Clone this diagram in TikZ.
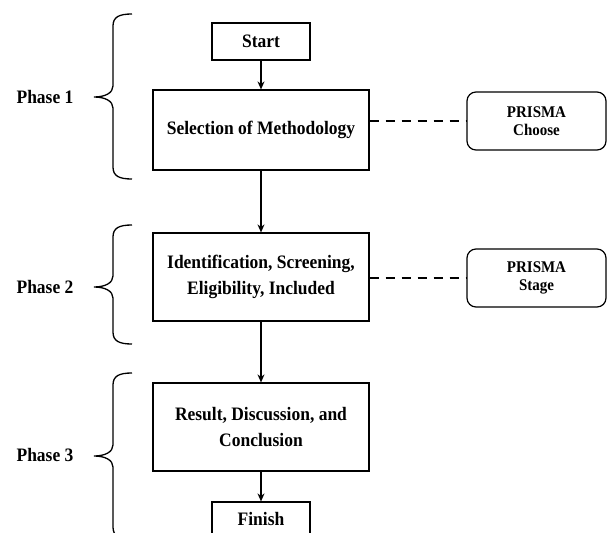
\documentclass[tikz,border=0pt]{standalone}
\usepackage{fontspec}
\setmainfont{Liberation Serif}
\newfontfamily\tallserif{Liberation Serif}[FakeStretch=0.92]
\usetikzlibrary{arrows.meta}
\tikzset{
  box/.style={draw, line width=1.2pt, rectangle, inner sep=0pt, align=center,
    font=\tallserif\fontsize{19}{26}\selectfont\bfseries},
  prisma/.style={draw, line width=1.2pt, rounded corners=9pt, inner sep=0pt, align=center,
    minimum width=139pt, minimum height=58pt,
    font=\tallserif\fontsize{16.3}{18}\selectfont\bfseries},
  phase/.style={font=\tallserif\fontsize{19}{21}\selectfont\bfseries, inner sep=0pt},
  flow/.style={line width=1.2pt, -{Stealth[length=8pt,width=7pt]}},
  link/.style={line width=1.3pt, dash pattern=on 9pt off 7pt},
  bracel/.style={line width=1.3pt}
}
\newcommand{\pbrace}[3]{% top, tip, bottom (px, y down)
  \draw[bracel] (132,#1) .. controls (119,#1) and (113,#1+3) .. (113,#1+12)
    -- (113,#2-11) .. controls (113,#2-4) and (105,#2) .. (94,#2)
    .. controls (105,#2) and (113,#2+4) .. (113,#2+11)
    -- (113,#3-12) .. controls (113,#3-3) and (119,#3) .. (132,#3);}
\begin{document}
\begin{tikzpicture}[x=1pt,y=-1pt]
\useasboundingbox (0,0) rectangle (608,533);
\node[box, minimum width=98pt, minimum height=37pt] (start) at (261,41.5) {Start};
\node[box, minimum width=216pt, minimum height=80pt] (sel) at (261,130) {Selection of Methodology};
\node[box, minimum width=216pt, minimum height=88pt] (ide) at (261,277) {Identification, Screening,\\Eligibility, Included};
\node[box, minimum width=216pt, minimum height=88pt] (res) at (261,427) {Result, Discussion, and\\Conclusion};
\node[box, minimum width=98pt, minimum height=34pt] (fin) at (261,519) {Finish};
\node[prisma] (p1) at (536.5,121) {PRISMA\\Choose};
\node[prisma] (p2) at (536.5,278) {PRISMA\\Stage};
\draw[flow] (start) -- (sel);
\draw[flow] (sel) -- (ide);
\draw[flow] (ide) -- (res);
\draw[flow] (res) -- (fin);
\draw[link] (sel.east |- p1.west) -- (p1.west);
\draw[link] (ide.east |- p2.west) -- (p2.west);
\node[phase] (ph1) at (45,97) {Phase 1};
\node[phase] (ph2) at (45,287) {Phase 2};
\node[phase] (ph3) at (45,455) {Phase 3};
\pbrace{14}{97}{179}
\pbrace{225}{287}{344}
\pbrace{373}{456}{539}
\end{tikzpicture}
\end{document}
